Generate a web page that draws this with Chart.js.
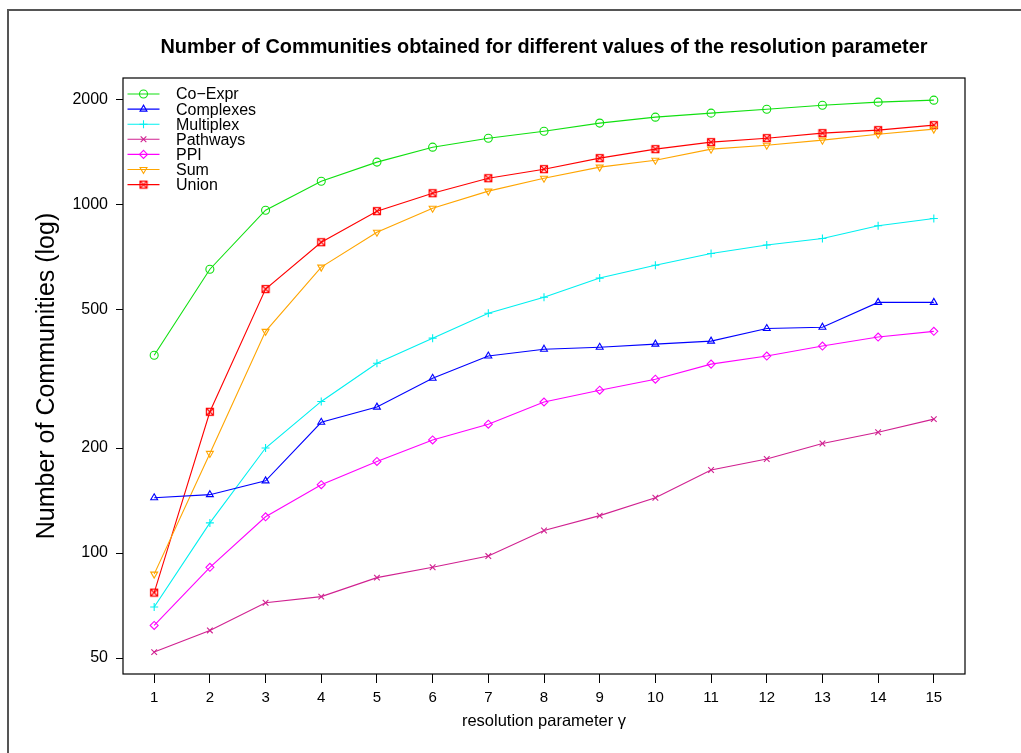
<!DOCTYPE html>
<html>
<head>
<meta charset="utf-8">
<script src="https://cdn.jsdelivr.net/npm/chart.js@4/dist/chart.umd.min.js"></script>
<style>
  body { margin: 0; background: #fff; }
  canvas { display: block; }
</style>
</head>
<body>
<canvas id="grafico" width="1021" height="753"></canvas>
<script>
// valores
const gammas = [1, 2, 3, 4, 5, 6, 7, 8, 9, 10, 11, 12, 13, 14, 15];
const yTicks = [50, 100, 200, 500, 1000, 2000];

const coExpr    = [369, 651, 961, 1164, 1320, 1457, 1546, 1619, 1708, 1776, 1824, 1872, 1922, 1961, 1987];
const complexes = [144, 147, 161, 237, 262, 317, 367, 384, 389, 397, 405, 440, 444, 523, 523];
const multiplex = [70, 122, 200, 272, 350, 413, 487, 541, 614, 668, 722, 764, 797, 867, 910];
const pathways  = [52, 60, 72, 75, 85, 91, 98, 116, 128, 144, 173, 186, 206, 222, 242];
const ppi       = [62, 91, 127, 157, 183, 211, 234, 271, 293, 315, 348, 367, 392, 416, 432];
const soma      = [87, 193, 432, 660, 831, 974, 1090, 1187, 1277, 1337, 1438, 1476, 1526, 1587, 1641];
const uniao     = [77, 254, 571, 778, 955, 1075, 1187, 1260, 1355, 1438, 1506, 1546, 1598, 1630, 1685];

const titulo = 'Number of Communities obtained for different values of the resolution parameter';
const fonte = '"Liberation Sans", Arial, Helvetica, sans-serif';

// quadrado com X (pch 7 do R)
function marcadorUniao() {
    const c = document.createElement('canvas');
    c.width = 10;
    c.height = 10;
    const g = c.getContext('2d');
    g.strokeStyle = '#ff0000';
    g.lineWidth = 1.2;
    g.strokeRect(1.5, 1.5, 7, 7);
    g.beginPath();
    g.moveTo(1.5, 1.5); g.lineTo(8.5, 8.5);
    g.moveTo(8.5, 1.5); g.lineTo(1.5, 8.5);
    g.stroke();
    return c;
}

function serie(label, valores, cor, estilo, rotacao) {
    return {
        label: label,
        data: gammas.map((g, i) => ({ x: g, y: valores[i] })),
        borderColor: cor,
        backgroundColor: cor,
        borderWidth: 1.1,
        pointStyle: estilo,
        rotation: rotacao || 0,
        pointRadius: 4,
        pointHoverRadius: 4,
        pointBorderWidth: 1.1,
        pointBorderColor: cor,
        pointBackgroundColor: 'rgba(0,0,0,0)',
        tension: 0
    };
}

const datasets = [
    serie('Co\u2212Expr', coExpr, '#10e010', 'circle'),
    serie('Complexes', complexes, '#0000ff', 'triangle'),
    serie('Multiplex', multiplex, '#00f0f0', 'cross'),
    serie('Pathways', pathways, '#d02090', 'crossRot'),
    serie('PPI', ppi, '#ff00ff', 'rectRot'),
    serie('Sum', soma, '#ffa500', 'triangle', 180),
    serie('Union', uniao, '#ff0000', marcadorUniao())
];

// moldura externa, título e caixa do gráfico
const molduraPlugin = {
    id: 'moldura',
    beforeDraw(chart) {
        const ctx = chart.ctx;
        const a = chart.chartArea;
        ctx.save();
        ctx.strokeStyle = '#555';
        ctx.lineWidth = 2;
        ctx.beginPath();
        ctx.moveTo(8, 753);
        ctx.lineTo(8, 10);
        ctx.lineTo(1021, 10);
        ctx.stroke();

        ctx.fillStyle = '#000';
        ctx.font = 'bold 19.9px ' + fonte;
        ctx.textAlign = 'center';
        ctx.textBaseline = 'middle';
        ctx.fillText(titulo, (a.left + a.right) / 2, 48);
        ctx.restore();
    },
    beforeDatasetsDraw(chart) {
        const a = chart.chartArea;
        const ctx = chart.ctx;
        ctx.save();
        ctx.strokeStyle = '#000';
        ctx.lineWidth = 1.2;
        ctx.strokeRect(a.left, a.top, a.right - a.left, a.bottom - a.top);
        ctx.restore();
    }
};

// legenda no canto superior esquerdo, linha + marcador
const legendaPlugin = {
    id: 'legendaR',
    afterDatasetsDraw(chart) {
        const a = chart.chartArea;
        const ctx = chart.ctx;
        ctx.save();
        chart.data.datasets.forEach((ds, i) => {
            const y = a.top + 16 + i * 15.1;
            ctx.strokeStyle = ds.borderColor;
            ctx.lineWidth = 1.1;
            ctx.beginPath();
            ctx.moveTo(a.left + 4.5, y);
            ctx.lineTo(a.left + 36.5, y);
            ctx.stroke();
            ctx.fillStyle = 'rgba(0,0,0,0)';
            Chart.helpers.drawPoint(ctx, {
                pointStyle: ds.pointStyle,
                rotation: ds.rotation,
                radius: 4,
                borderWidth: 1.1
            }, a.left + 20.5, y);
            ctx.fillStyle = '#000';
            ctx.font = '16px ' + fonte;
            ctx.textBaseline = 'middle';
            ctx.textAlign = 'left';
            ctx.fillText(ds.label, a.left + 53, y + 1);
        });
        ctx.restore();
    }
};

new Chart(document.getElementById('grafico'), {
    type: 'line',
    data: { datasets: datasets },
    plugins: [molduraPlugin, legendaPlugin],
    options: {
        responsive: false,
        animation: false,
        devicePixelRatio: 1,
        layout: { padding: { left: 0, right: 56, top: 78, bottom: 0 } },
        plugins: {
            legend: { display: false },
            tooltip: { enabled: false },
            title: { display: false }
        },
        scales: {
            x: {
                type: 'linear',
                min: 0.44,
                max: 15.56,
                afterBuildTicks: scale => { scale.ticks = gammas.map(v => ({ value: v })); },
                afterFit: scale => { scale.height = 79; },
                border: { display: false },
                grid: { drawOnChartArea: false, tickLength: 9, tickColor: '#000' },
                ticks: {
                    color: '#000',
                    font: { family: fonte, size: 15 },
                    padding: 6,
                    maxRotation: 0,
                    autoSkip: false,
                    callback: v => String(v)
                },
                title: {
                    display: true,
                    text: 'resolution parameter \u03b3',
                    color: '#000',
                    font: { family: fonte, size: 16.5 },
                    padding: { top: 0, bottom: 22 }
                }
            },
            y: {
                type: 'logarithmic',
                min: 45,
                max: 2300,
                afterBuildTicks: scale => { scale.ticks = yTicks.map(v => ({ value: v })); },
                afterFit: scale => { scale.width = 123; },
                border: { display: false },
                grid: { drawOnChartArea: false, tickLength: 7, tickColor: '#000' },
                ticks: {
                    color: '#000',
                    font: { family: fonte, size: 16 },
                    padding: 8,
                    autoSkip: false,
                    callback: v => String(v)
                },
                title: {
                    display: true,
                    text: 'Number of Communities (log)',
                    color: '#000',
                    font: { family: fonte, size: 25 },
                    padding: { top: 32, bottom: 0 }
                }
            }
        }
    }
});
</script>
</body>
</html>
